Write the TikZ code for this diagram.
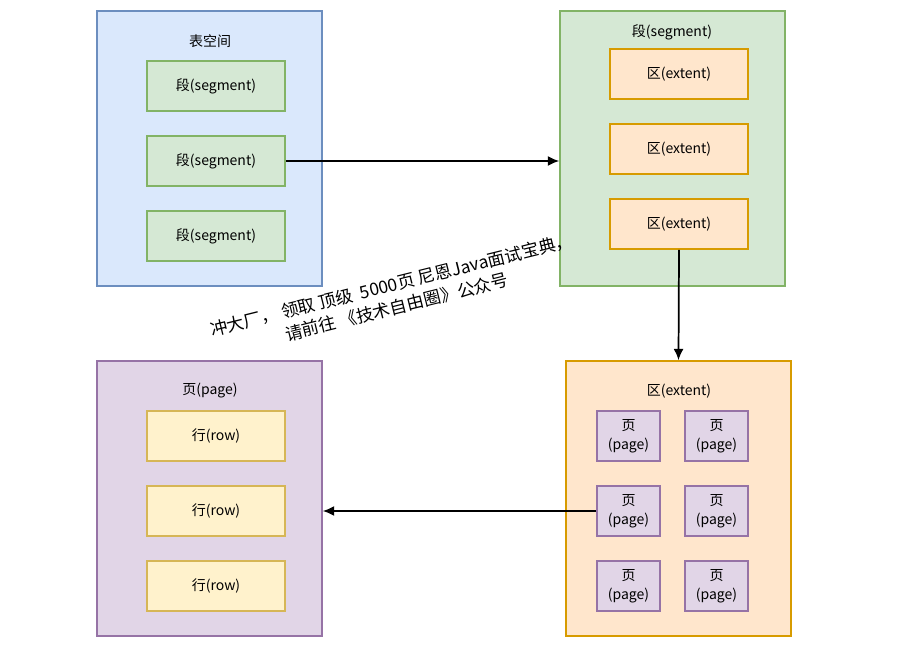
\documentclass[tikz,border=0pt]{standalone}
\usepackage{fontspec}
\setmainfont{Noto Sans CJK SC}
\usepackage{tikz}
\usetikzlibrary{positioning,calc,arrows.meta}
\definecolor{tsfill}{HTML}{DAE8FC}
\definecolor{tsline}{HTML}{6C8EBF}
\definecolor{segfill}{HTML}{D5E8D4}
\definecolor{segline}{HTML}{82B366}
\definecolor{extfill}{HTML}{FFE6CC}
\definecolor{extline}{HTML}{D79B00}
\definecolor{pgfillc}{HTML}{E1D5E7}
\definecolor{pgline}{HTML}{9673A6}
\definecolor{rowfill}{HTML}{FFF2CC}
\definecolor{rowline}{HTML}{D6B656}
\tikzset{
	bigbox/.style={rectangle,draw,line width=1.2pt,minimum width=168.75pt,minimum height=206.25pt,inner sep=0pt},
	smallbox/.style={rectangle,draw,line width=1.2pt,minimum width=103.5pt,minimum height=37.5pt,inner sep=0pt,font=\fontsize{10.5}{12}\selectfont},
	pagebox/.style={rectangle,draw=pgline,fill=pgfillc,line width=1.2pt,minimum width=47.25pt,minimum height=37.5pt,inner sep=0pt,align=center,font=\fontsize{10.5}{14}\selectfont},
	boxtitle/.style={font=\fontsize{10.5}{12}\selectfont,inner sep=0pt},
	link/.style={black,-{Latex[length=8.5pt,width=7.5pt]},line width=1.3pt}
}

\begin{document}
\begin{tikzpicture}[x=0.75pt,y=-0.75pt]
		\useasboundingbox (0,0) rectangle (899,651);
		
		% outer boxes
		\node[bigbox,draw=tsline,fill=tsfill] (TS) at (209.5,148.5) {};
		\node[bigbox,draw=segline,fill=segfill] (SEG) at (672.5,148.5) {};
		\node[bigbox,draw=extline,fill=extfill] (EXT) at (678.5,498.5) {};
		\node[bigbox,draw=pgline,fill=pgfillc] (PG) at (209.5,498.5) {};
		
		\node[boxtitle] (TS title) at (210,41) {表空间};
		\node[boxtitle] (SEG title) at (672,32) {段(segment)};
		\node[boxtitle] (EXT title) at (679,391) {区(extent)};
		\node[boxtitle] (PG title) at (210,391) {页(page)};
		
		% inner boxes
		\foreach \i/\y in {1/86,2/161,3/236}{
			\node[smallbox,draw=segline,fill=segfill] (S\i) at (216,\y) {段(segment)};
		}
		\foreach \i/\y in {1/74,2/149,3/224}{
			\node[smallbox,draw=extline,fill=extfill] (E\i) at (679,\y) {区(extent)};
		}
		\foreach \i/\y in {1/436,2/511,3/586}{
			\node[smallbox,draw=rowline,fill=rowfill] (R\i) at (216,\y) {行(row)};
			\node[pagebox] (P\i a) at (628.5,\y) {页\\(page)};
			\node[pagebox] (P\i b) at (716.5,\y) {页\\(page)};
		}
		
		% links
		\draw[link] (S2.east) -- (S2.east -| SEG.west);
		\draw[link] (E3.south) -- (EXT.north);
		\draw[link] (P2a.west) -- (P2a.west -| PG.east);
		
		\node[rotate=14,align=center,font=\fontsize{13}{17}\selectfont] (ad) at (394,296) {冲大厂， 领取 顶级~ 5000页 尼恩Java面试宝典，\\请前往 《技术自由圈》公众号};
		
\end{tikzpicture}
\end{document}
